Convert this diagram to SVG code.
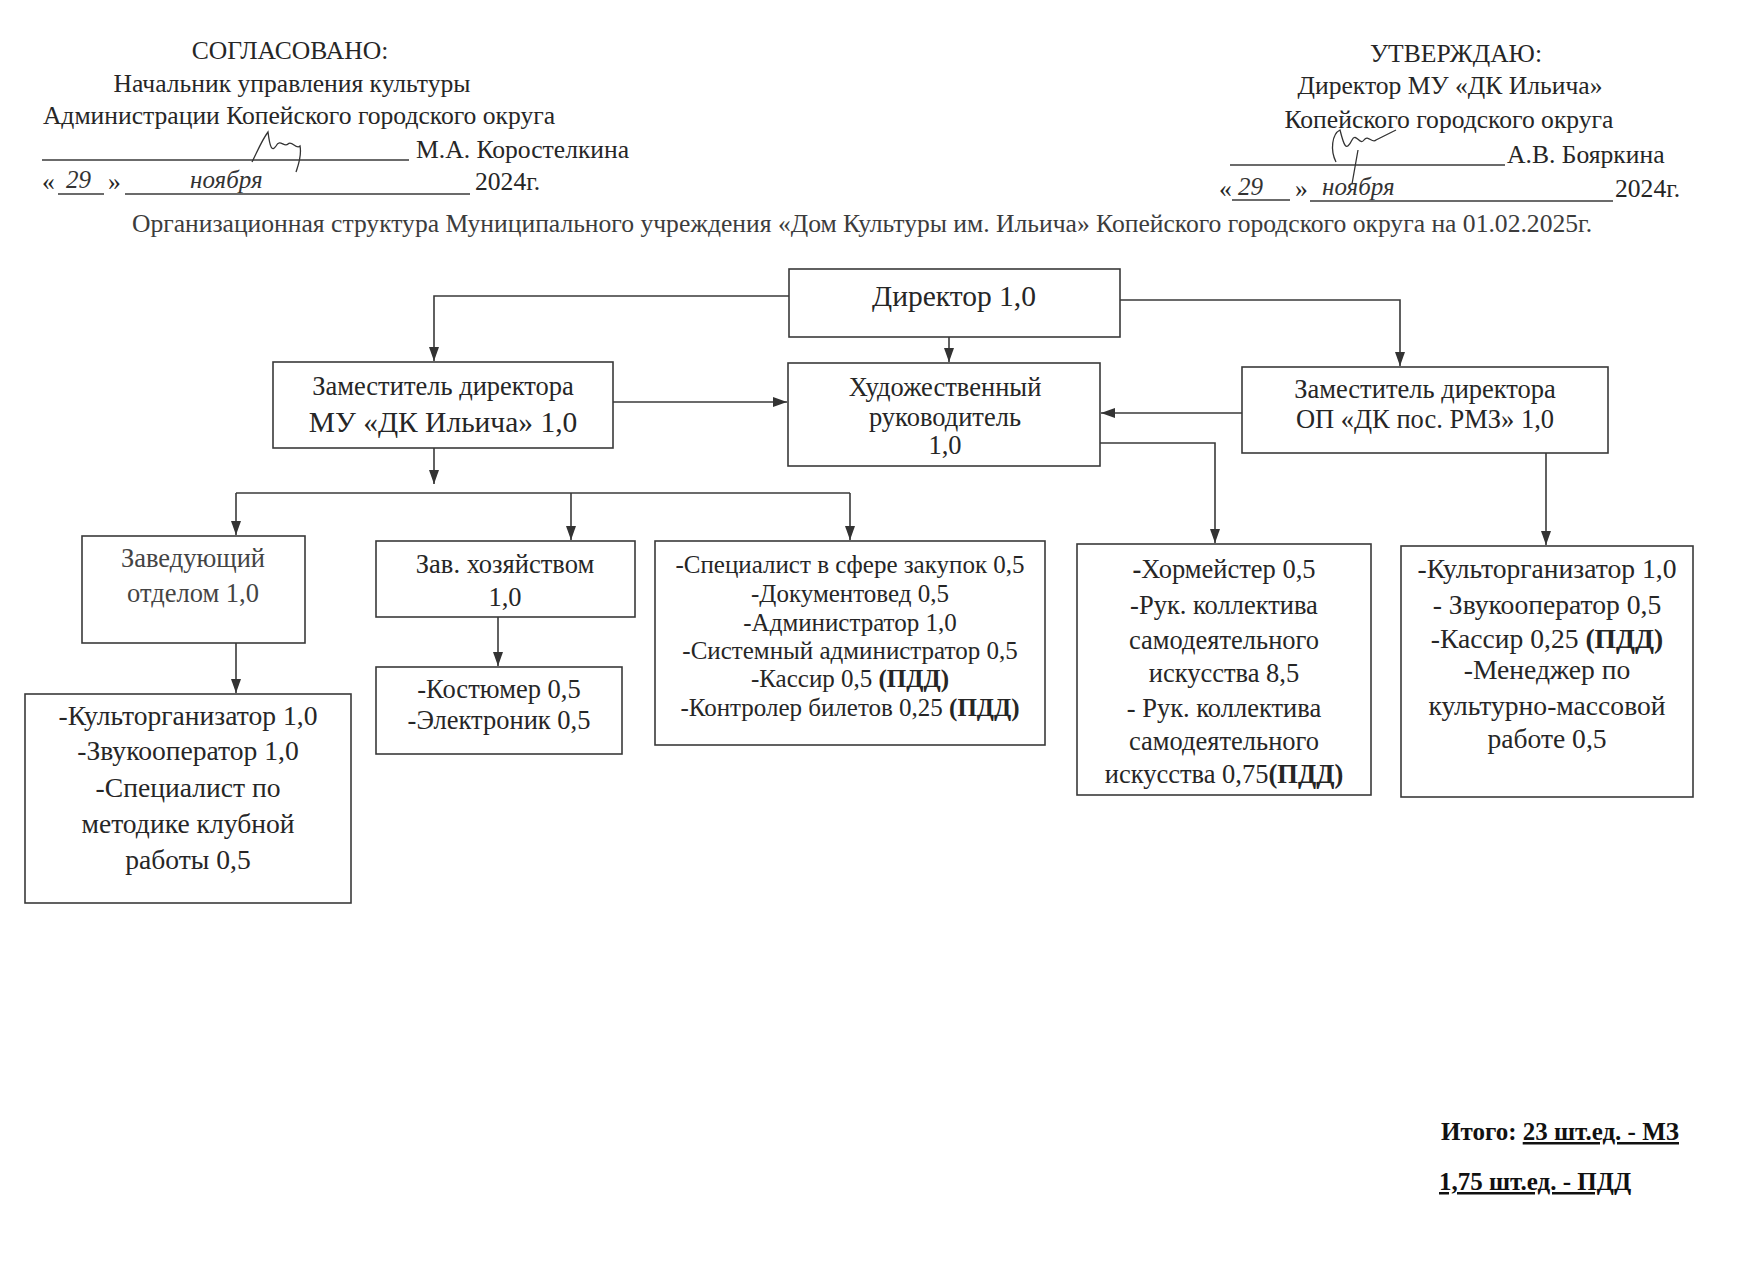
<svg xmlns="http://www.w3.org/2000/svg" width="1753" height="1275" viewBox="0 0 1753 1275">
<defs>
<style>
text{font-family:"Liberation Serif","Times New Roman",serif;fill:#262626;font-size:26.5px}
.h{font-size:25.6px}
.c{text-anchor:middle}
.box{fill:#fff;stroke:#3a3a3a;stroke-width:1.6}
.ln{fill:none;stroke:#3a3a3a;stroke-width:1.6}
.hw{font-style:italic;fill:#333;font-size:25px}
.sig{fill:none;stroke:#333;stroke-width:1.3}
.b{font-weight:bold}
.big{font-size:29.5px}
.m{font-size:27.6px}
.ch{font-size:26.5px}
.s{font-size:25px}
</style>
<marker id="ar" markerUnits="userSpaceOnUse" viewBox="0 0 14 10" markerWidth="14" markerHeight="10" refX="14" refY="5" orient="auto">
<path d="M0,0 L14,5 L0,10 z" fill="#333"/>
</marker>
</defs>
<rect width="1753" height="1275" fill="#fff"/>

<g id="header-left">
<text class="c h" x="290" y="59">СОГЛАСОВАНО:</text>
<text class="c h" x="292" y="92">Начальник управления культуры</text>
<text class="c h" x="299" y="124">Администрации Копейского городского округа</text>
<line class="ln" x1="42" y1="160" x2="409" y2="160" stroke-width="1"/>
<path class="sig" d="M252,162 C258,150 262,140 268,132 C270,148 272,152 276,146 C280,138 284,148 288,144 C292,140 296,150 300,146 C302,156 298,166 296,172"/>
<text class="h" x="416" y="158">М.А. Коростелкина</text>
<text class="h" x="42" y="190">«</text>
<text class="hw" x="66" y="188">29</text>
<line class="ln" x1="58" y1="194" x2="104" y2="194" stroke-width="1"/>
<text class="h" x="108" y="190">»</text>
<line class="ln" x1="125" y1="194" x2="470" y2="194" stroke-width="1"/>
<text class="hw" x="190" y="188">ноября</text>
<text class="h" x="475" y="190">2024г.</text>
</g>

<g id="header-right">
<text class="c h" x="1456" y="62">УТВЕРЖДАЮ:</text>
<text class="c h" x="1450" y="94">Директор МУ «ДК Ильича»</text>
<text class="c h" x="1449" y="128">Копейского городского округа</text>
<line class="ln" x1="1230" y1="165" x2="1505" y2="165" stroke-width="1"/>
<path class="sig" d="M1336,162 C1330,150 1332,134 1340,130 C1344,146 1346,152 1352,140 C1356,132 1360,146 1364,140 C1368,134 1372,144 1376,140 L1396,130 M1358,150 L1352,184"/>
<text class="h" x="1507" y="163">А.В. Бояркина</text>
<text class="h" x="1219" y="197">«</text>
<text class="hw" x="1238" y="195">29</text>
<line class="ln" x1="1232" y1="200" x2="1290" y2="200" stroke-width="1"/>
<text class="h" x="1295" y="197">»</text>
<line class="ln" x1="1310" y1="201" x2="1613" y2="201" stroke-width="1"/>
<text class="hw" x="1322" y="195">ноября</text>
<text class="h" x="1615" y="197">2024г.</text>
</g>

<text id="title" class="c h" x="862" y="232" style="fill:#3c3c3c">Организационная структура Муниципального учреждения «Дом Культуры им. Ильича» Копейского городского округа на 01.02.2025г.</text>

<g id="connectors">
<path class="ln" d="M789,296 H434 V361" marker-end="url(#ar)"/>
<path class="ln" d="M1120,300 H1400 V366" marker-end="url(#ar)"/>
<path class="ln" d="M949,337 V362" marker-end="url(#ar)"/>
<path class="ln" d="M613,402 H787" marker-end="url(#ar)"/>
<path class="ln" d="M1242,413 H1101" marker-end="url(#ar)"/>
<path class="ln" d="M1100,443 H1215 V543" marker-end="url(#ar)"/>
<path class="ln" d="M1546,453 V545" marker-end="url(#ar)"/>
<path class="ln" d="M434,448 V484" marker-end="url(#ar)"/>
<path class="ln" d="M236,493 H850"/>
<path class="ln" d="M236,493 V535" marker-end="url(#ar)"/>
<path class="ln" d="M571,493 V540" marker-end="url(#ar)"/>
<path class="ln" d="M850,493 V540" marker-end="url(#ar)"/>
<path class="ln" d="M236,643 V693" marker-end="url(#ar)"/>
<path class="ln" d="M498,617 V666" marker-end="url(#ar)"/>
</g>

<g id="director">
<rect class="box" x="789" y="269" width="331" height="68"/>
<text class="c big" x="954" y="306">Директор 1,0</text>
</g>

<g id="deputy-mu">
<rect class="box" x="273" y="362" width="340" height="86"/>
<text class="c" x="443" y="395">Заместитель директора</text>
<text class="c big" x="443" y="432">МУ «ДК Ильича» 1,0</text>
</g>

<g id="art-director">
<rect class="box" x="788" y="363" width="312" height="103"/>
<text class="c" x="945" y="396">Художественный</text>
<text class="c" x="945" y="426">руководитель</text>
<text class="c" x="945" y="454">1,0</text>
</g>

<g id="deputy-op">
<rect class="box" x="1242" y="367" width="366" height="86"/>
<text class="c" x="1425" y="398">Заместитель директора</text>
<text class="c" x="1425" y="428">ОП «ДК пос. РМЗ» 1,0</text>
</g>

<g id="head-dept">
<rect class="box" x="82" y="536" width="223" height="107"/>
<text class="c" x="193" y="567" style="fill:#444">Заведующий</text>
<text class="c" x="193" y="602" style="fill:#444">отделом 1,0</text>
</g>

<g id="housekeeper">
<rect class="box" x="376" y="541" width="259" height="76"/>
<text class="c" x="505" y="573">Зав. хозяйством</text>
<text class="c" x="505" y="606">1,0</text>
</g>

<g id="specialists">
<rect class="box" x="655" y="541" width="390" height="204"/>
<text class="c s" x="850" y="573">-Специалист в сфере закупок 0,5</text>
<text class="c s" x="850" y="602">-Документовед 0,5</text>
<text class="c s" x="850" y="631">-Администратор 1,0</text>
<text class="c s" x="850" y="659">-Системный администратор 0,5</text>
<text class="c s" x="850" y="687">-Кассир 0,5 <tspan class="b">(ПДД)</tspan></text>
<text class="c s" x="850" y="716">-Контролер билетов 0,25 <tspan class="b">(ПДД)</tspan></text>
</g>

<g id="choir">
<rect class="box" x="1077" y="544" width="294" height="251"/>
<text class="c ch" x="1224" y="578"><tspan class="b">-</tspan>Хормейстер 0,5</text>
<text class="c ch" x="1224" y="614">-Рук. коллектива</text>
<text class="c ch" x="1224" y="649">самодеятельного</text>
<text class="c ch" x="1224" y="682">искусства 8,5</text>
<text class="c ch" x="1224" y="717">- Рук. коллектива</text>
<text class="c ch" x="1224" y="750">самодеятельного</text>
<text class="c ch" x="1224" y="783">искусства 0,75<tspan class="b">(ПДД)</tspan></text>
</g>

<g id="op-staff">
<rect class="box" x="1401" y="546" width="292" height="251"/>
<text class="c m" x="1547" y="578">-Культорганизатор 1,0</text>
<text class="c m" x="1547" y="614">- Звукооператор 0,5</text>
<text class="c m" x="1547" y="648">-Кассир 0,25 <tspan class="b">(ПДД)</tspan></text>
<text class="c m" x="1547" y="679">-Менеджер по</text>
<text class="c m" x="1547" y="715">культурно-массовой</text>
<text class="c m" x="1547" y="748">работе 0,5</text>
</g>

<g id="dept-staff">
<rect class="box" x="25" y="694" width="326" height="209"/>
<text class="c m" x="188" y="725">-Культорганизатор 1,0</text>
<text class="c m" x="188" y="760">-Звукооператор 1,0</text>
<text class="c m" x="188" y="797">-Специалист по</text>
<text class="c m" x="188" y="833">методике клубной</text>
<text class="c m" x="188" y="869">работы 0,5</text>
</g>

<g id="costume">
<rect class="box" x="376" y="667" width="246" height="87"/>
<text class="c" x="499" y="698">-Костюмер 0,5</text>
<text class="c" x="499" y="729">-Электроник 0,5</text>
</g>

<g id="totals">
<text class="b s" x="1441" y="1140" style="fill:#111">Итого: <tspan text-decoration="underline">23 шт.ед. - МЗ</tspan></text>
<text class="b s" x="1439" y="1190" style="fill:#111" text-decoration="underline">1,75 шт.ед. - ПДД</text>
</g>
</svg>
